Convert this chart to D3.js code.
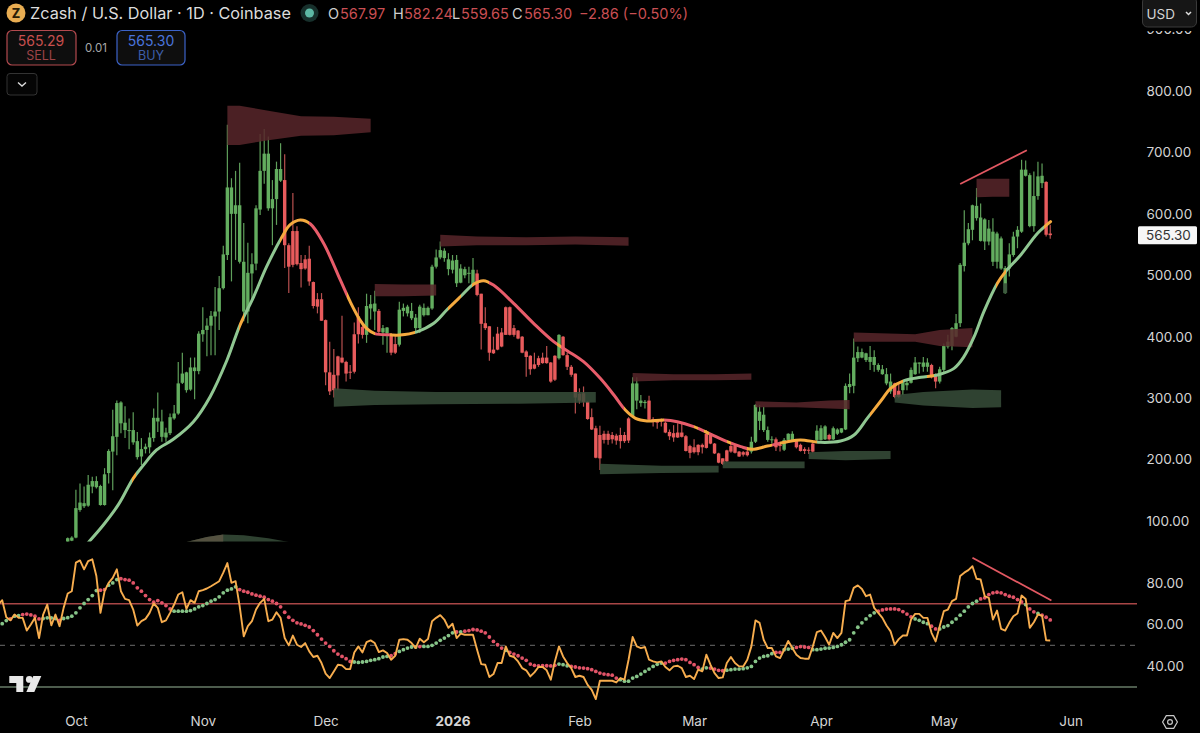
<!DOCTYPE html>
<html><head><meta charset="utf-8">
<script src="https://cdn.jsdelivr.net/npm/d3@7/dist/d3.min.js"></script>
<style>html,body{margin:0;padding:0;background:#000;overflow:hidden}text{font-family:Inter,"Noto Sans",sans-serif}</style>
</head><body><svg id="c" width="1200" height="733"></svg>
<script>
// ---- Candles: one per day, index 0 = 29 Sep 2025
const firstDay = new Date(Date.UTC(2025, 8, 29));
const opens = [66,68,73,118,124,125,156,155,126,126,178,213,237,259,248,247,228,204,205,217,220,235,262,237,236,243,267,275,325,313,314,344,344,404,411,418,433,441,479,533,600,600,522,441,441,503,519,607,670,609,609,624,654,655,549,572,572,520,526,527,489,461,461,427,342,338,368,366,359,343,404,433,416,403,446,441,442,407,406,403,388,387,442,438,430,414,414,435,435,446,514,529,528,510,509,487,488,500,503,484,503,470,422,417,379,405,407,448,448,414,410,400,376,369,355,365,366,366,358,369,365,400,370,351,340,307,308,294,269,251,240,242,242,240,239,240,240,267,270,296,292,292,296,266,263,265,260,245,243,244,244,238,222,220,224,224,242,242,226,210,202,215,222,222,213,212,213,213,229,263,248,232,232,233,224,216,232,231,232,224,217,216,226,232,232,233,240,233,242,244,249,318,320,365,366,362,359,354,346,339,324,311,324,312,313,321,325,339,356,351,351,354,338,327,346,384,385,400,422,515,552,574,593,556,555,555,522,522,511,471,511,533,563,571,662,580,580,629,650,652,567.97];
const highs = [73,75,151,161,156,175,172,173,159,186,217,281,296,295,287,267,277,245,235,226,244,283,309,281,252,275,289,359,374,343,366,366,409,448,430,442,481,499,548,745,658,670,683,585,553,536,614,730,738,726,655,685,715,697,552,634,580,533,533,548,490,471,471,428,392,380,369,434,361,354,423,448,425,470,468,475,445,419,416,406,403,457,454,452,455,437,452,454,449,517,542,555,544,536,533,533,518,514,514,528,509,470,448,417,400,416,414,449,449,419,411,401,378,370,374,369,374,385,359,370,404,401,374,354,340,316,319,295,283,255,255,247,247,245,242,252,245,269,334,334,305,297,304,269,264,267,262,249,256,259,259,240,224,233,225,226,248,243,227,211,202,216,226,224,214,214,218,237,290,289,286,254,238,236,229,235,243,246,233,226,220,220,228,256,256,256,242,254,251,251,324,340,397,384,381,374,385,378,357,354,349,340,325,324,329,329,350,367,358,367,365,356,340,351,389,403,416,437,520,606,585,615,642,617,593,590,593,571,563,515,552,571,580,688,687,666,669,685,682,653,582.24];
const lows = [65,67,72,115,121,123,145,153,125,125,161,150,207,243,235,217,224,200,191,210,210,229,245,229,229,240,265,273,323,309,312,298,339,392,368,370,370,411,477,525,490,525,519,425,422,460,508,598,649,605,549,582,652,512,471,513,516,480,509,483,446,438,426,321,305,301,313,357,327,331,340,389,397,390,428,411,403,387,374,370,372,384,433,433,427,408,406,433,435,444,511,526,522,500,503,481,487,495,487,484,466,379,411,361,372,378,383,403,402,400,396,373,335,338,347,351,356,356,325,328,363,369,346,335,275,291,286,265,248,202,183,226,224,226,224,218,227,227,269,282,286,283,264,254,250,254,243,232,229,235,236,213,202,210,207,210,218,225,209,194,191,196,211,210,204,205,205,210,227,248,245,229,226,214,213,214,229,229,218,213,209,209,211,229,231,232,231,232,240,243,248,308,308,359,365,359,346,343,343,338,321,307,300,300,305,313,324,338,340,343,343,332,316,324,340,381,378,399,416,506,549,557,589,555,541,549,515,511,509,470,498,530,544,569,661,578,571,623,642,563,559.65];
const closes = [72,73,121,130,129,159,165,165,157,176,214,238,292,293,260,248,248,230,217,221,236,268,268,262,244,269,275,324,340,342,350,350,405,411,418,434,441,479,534,643,643,614,614,522,504,518,609,670,698,698,624,673,673,549,514,517,518,510,511,490,450,449,426,342,311,313,337,358,340,342,343,404,403,450,453,454,408,414,415,374,374,444,447,449,442,431,449,447,447,514,529,541,540,526,524,525,511,510,504,509,468,421,414,374,373,379,384,403,403,403,397,374,367,347,348,354,357,357,327,330,403,370,351,338,301,296,294,266,249,203,202,232,232,233,231,230,230,231,324,324,296,294,265,263,260,262,244,238,236,236,237,214,211,212,212,220,219,226,210,195,193,197,213,211,205,208,207,229,289,278,273,248,233,220,222,232,242,242,220,214,214,215,213,247,251,254,233,251,249,251,320,323,366,375,375,373,367,367,354,347,339,327,302,302,328,325,346,358,358,358,358,334,327,347,385,392,414,422,517,553,575,614,613,594,591,576,571,568,560,512,534,563,574,672,672,663,629,661,662,566,565.30];

// ---- Smoothed moving average: day index / price
const maDay = [3,8.7,12.4,16,18.5,21.7,25.8,30.7,34.8,38.9,42.1,45.4,48.6,52.3,54.3,56.8,59.3,62.5,66.6,69,71.4,73,75,78.7,81.2,85.3,89.4,92.6,95.9,99.2,101.6,104,108.9,113.8,118.7,122,126,130.1,133.4,136.2,138.7,141.5,145.6,148.9,152.9,157,161.1,164.4,167.2,170.9,175.8,179,183.9,188.8,192.1,195.3,198.8,201,204.3,208.4,212.4,216.5,218.9,221.4,223.8,227.1,229.1,232.8,236.9,240.1];
const maPrice = [50,93.5,127,169.5,191,215.6,233,261.7,302.4,362.1,419,465,514,561.8,582,590,583.5,552,492.4,457,427,413.6,405,403,402.8,408,421.8,443.5,465,485.8,491.2,484,454.3,421.8,392,377.3,359.4,332.2,305.1,280.7,267.1,262.8,264.4,261.7,253.6,241.6,229.1,221,216.6,222,229.1,231.9,228,230.2,240,267.1,297,316,328.5,333.9,337.7,348.5,367.5,400,440.8,487,506,533,568.3,587.3];
// colour runs: a run ends at the day given
const maRunEnd = [15.6,16.8,41.9,43.1,51.8,59,68.2,75,78.7,84.9,93,96,98.7,103,119.5,120.5,135.8,145.6,153,154,155.5,156.6,161,162,166,172,174,183,196,204,210,211.6,226.7,229.3,238.5,241];
const maRunTone = ["g","o","g","o","g","o","r","o","r","o","g","o","g","o","r","o","r","o","r","o","r","o","r","o","r","o","r","o","g","o","g","o","g","o","g","o"];

// ---- Supply / demand zones
const zoneR1Day=[39,42,49,57,65,74], zoneR1Top=[776,776,768,759,758,755], zoneR1Bot=[712,712,720,727,728,733];
const zoneR2Day=[75,82,90], zoneR2Top=[486,485,485], zoneR2Bot=[466,466,467];
const zoneR3Day=[91,100,112,124,137], zoneR3Top=[566,563,562,563,562], zoneR3Bot=[547,549,549,550,548];
const zoneR4Day=[138,148,158,167], zoneR4Top=[341,339,339,340], zoneR4Bot=[327,329,329,330];
const zoneR5Day=[168,178,186,191], zoneR5Top=[295,293,296,297], zoneR5Bot=[285,285,283,282];
const zoneR6Day=[192,207,213,221], zoneR6Top=[407,404,411,414], zoneR6Bot=[392,392,385,383];
const zoneR7Day=[222,226,230], zoneR7Top=[657,657,657], zoneR7Bot=[627,628,628];
const zoneG1Day=[65,75,90,110,129], zoneG1Top=[316,312,310,310,310], zoneG1Bot=[286,289,290,291,293];
const zoneG2Day=[130,145,159], zoneG2Top=[193,190,190], zoneG2Bot=[176,178,179];
const zoneG3Day=[160,170,180], zoneG3Top=[197,197,197], zoneG3Bot=[186,186,186];
const zoneG4Day=[181,190,201], zoneG4Top=[212,214,214], zoneG4Bot=[201,199,201];
const zoneG5Day=[202,209,221,228], zoneG5Top=[305,310,314,313], zoneG5Bot=[293,288,284,285];
const zoneG6Day=[228.5,229.5], zoneG6Top=[487,487], zoneG6Bot=[471,471];
const zoneG7Day=[29,34,38,43,49,54], zoneG7Top=[66,74,78,77,72,66], zoneG7Bot=[40,40,40,40,40,40];
const zoneT1Day=[29,34,38], zoneT1Top=[66,74,78], zoneT1Bot=[40,40,40];

// ---- Oscillator: one value per day, first value is day -17
const rsiFirstDay = -17;
const rsi = [69.6,71.7,63.5,62,64.8,63.2,63.2,57.1,60,63.2,53.5,64.8,69.6,59.6,64.8,59.2,68,74.9,76,89.7,90.8,86.5,90.5,91.3,83.3,65.6,76,80,82.4,86.5,76,72.3,71.7,67.2,59.5,61.6,62.7,65.6,70.1,68,61.1,62,65.6,69.6,74.4,75.5,67.5,71.7,70.4,76,76.5,77.3,78.4,79.6,80.8,84.9,89.5,80,80.8,68.8,54.3,59.2,61.6,67.2,70.4,72.3,61.6,62.4,65.9,63.2,53.5,50,54.7,50.3,49.2,51.1,47.1,44.4,45,41.5,36.4,34.3,37.5,40.7,40.4,38.6,38.6,46.6,49.5,46.6,51.5,52.4,51.1,46.8,47.6,46.3,43.1,45,52.7,
53,52.7,51.1,48.7,53.2,51.5,53,61.6,63.2,64.5,62.4,58.4,60.4,53.5,55.6,55.1,55.1,55.1,47.9,41,40.7,34.8,36.2,41.5,41.5,49.5,45,44.4,42.3,39.1,38,35.1,37,39.6,39.6,38,33.5,42.3,49.5,44.7,41.5,39.1,34.8,35.4,34.8,31,28.6,24.2,33,33,33,33,32.2,34.3,33.5,43.1,54,49.5,48.7,49.2,43.1,42.3,41.8,42.3,39.6,38,39.9,40.2,39.1,34.8,35.4,33.8,38.3,37.5,45.5,40.7,36.7,34.3,34.6,41.5,44.4,41.5,39.9,39.9,43.1,49.5,62,60.8,52.7,48.7,48.7,44.7,43.9,47.9,52.1,48.7,45.5,43.9,
43.6,43.6,49.5,56.4,57.1,54,50.3,56,53.5,56,71.2,71.7,77.6,78.8,77.1,73.6,74.4,68,65.6,63.2,59.5,56.7,50.3,53,54.7,54.7,62.4,65.1,65.1,63.2,63.2,56,51.9,59.2,66.4,67.2,71.2,72.3,83.3,84.9,86.1,88,82,81.6,73.6,72.8,62.4,66.7,57.9,57.1,60.8,64,65.3,73.9,72.3,58.4,61.1,64.8,64.3,52.4,52.3];
const rsiSignal = [60,60.4,61.9,62.7,64,64.3,64.8,65,64.6,64,62.7,62.9,63.2,63.2,62.9,62,62.9,63.3,64,65.6,68,70.1,72,73.9,76.3,76.5,76.8,78.9,80,81.6,82,81.6,81.3,80,77.6,76,73.9,72,70.7,71.5,70.4,69.1,67.5,66.4,66.4,66.4,66.4,66.7,67.5,68.5,69.1,70.1,71.2,72,73.3,75.2,76.5,77.1,78.1,76.8,76,75.5,74.7,74.1,73.6,73.1,72,71.2,70.1,68.5,65.9,63.5,62,60.8,60.3,59.6,58.8,57.1,55.1,53,51.1,49.5,47.4,45.8,44.7,43.6,42.3,42,41.8,42,42.3,42.8,43.1,43.6,44.4,44.7,45,46,47.1,
47.9,48.7,49.2,49.2,49.4,49.5,49.5,50,51.1,52.4,53.5,54.7,56,56.4,56.4,56.8,57.1,57.6,57.4,56.8,56,54,51.9,50.3,48.7,47.6,46.6,45.8,45,43.9,42.8,41,40.4,40.1,40.2,40.2,40.1,40.4,41,40.7,40.2,39.9,39.6,39.2,39.1,38.8,38.3,37.5,36.7,36.2,35.9,35.7,34.3,33.5,32.8,32.8,34.3,35.1,36.2,37.5,38.6,39.9,40.9,41.5,41.5,42.3,42.8,43.1,43.4,43.1,41.8,40.7,39.4,38.6,39.2,39.1,38.6,38,37.8,38.1,38.3,38.6,38.6,38.8,39.2,39.9,42.3,43.9,44.7,45,46,46.6,46.6,47.9,48.2,48.6,49,49.4,
49.2,49,47.9,47.9,48.2,48.6,48.7,49,49.5,50.3,51.5,52.7,56,58.7,60.8,62.7,64.3,65.6,66.4,67,67.4,67.5,67.5,67.2,66.2,65,63.7,62.7,62,61.1,60.4,59.2,57.9,57.9,58.8,59.5,61.1,62.7,64.5,66.4,68.5,70.1,71.2,72.3,72.8,74.4,75.2,75.5,75.2,74.4,73.6,73.1,72,70.9,69.6,67.5,66.1,65.3,64.5,63.5,62.2];
// days on which the signal dots are red: [from, to]
const signalRedSpans = [[-14,-14],[-11,-7],[-2,-2],[8,9],[13,25],[42,69],[79,80],[86,86],[95,95],[97,106],[108,119],[123,134],[146,154],[157,160],[173,174],[178,181],[198,206],[211,212],[223,233],[235,236],[238,240]];

// ---- Axes and reference lines
const priceTicks = [100,200,300,400,500,600,700,800,900];
const rsiTicks = [40,60,80];
const timeTickDates = [[2025,9],[2025,10],[2025,11],[2026,0],[2026,1],[2026,2],[2026,3],[2026,4],[2026,5]];
const timeTickLabels = ["Oct","Nov","Dec","2026","Feb","Mar","Apr","May","Jun"];
const rsiLevels = [70,50,30];
const priceTrendDay=[218,234.3], priceTrendValue=[648.6,703.5];
const rsiTrendDay=[221,240.3], rsiTrendValue=[92.1,71.5];

// ---- Scales
const x = d3.scaleUtc().domain([new Date(Date.UTC(2025,9,1)),new Date(Date.UTC(2026,5,1))]).range([75.9,1070.7]);
const xd = i => x(d3.utcHour.offset(firstDay, Math.round(i*24)));
const y = d3.scaleLinear().domain([100,800]).range([521,91]);
const yr = d3.scaleLinear().domain([30,70]).range([687,603.7]);
const C = {up:"#63ad5f",upW:"#5f9f5b",dn:"#e85b5c",dnW:"#b8504f",mg:"#90c792",mo:"#f5aa3f",mr:"#e85c6a",zr:"#58262a",zg:"#374e3a",zt:"#5a5343",line:"#e25862",txt:"#d4d4d4"};

const svg = d3.select("#c");
svg.append("rect").attr("width",1200).attr("height",733).attr("fill","#000");
const defs = svg.append("defs");
defs.append("clipPath").attr("id","pane").append("rect").attr("x",0).attr("y",0).attr("width",1137).attr("height",541.5);

// gradient with hard stops for the MA tones
const toneColor = {g:C.mg,o:C.mo,r:C.mr};
const grad = defs.append("linearGradient").attr("id","maGrad").attr("gradientUnits","userSpaceOnUse").attr("x1",0).attr("x2",1200).attr("y1",0).attr("y2",0);
let prev = 0;
maRunEnd.forEach((end,k)=>{
  const col = toneColor[maRunTone[k]], a = k===0?0:xd(prev)/1200, b = xd(end)/1200;
  grad.append("stop").attr("offset",a).attr("stop-color",col);
  grad.append("stop").attr("offset",b).attr("stop-color",col);
  prev = end;
});

const pane = svg.append("g").attr("clip-path","url(#pane)");
// candles
const days = d3.range(opens.length);
pane.append("g").selectAll("line").data(days).join("line")
  .attr("x1",i=>xd(i)).attr("x2",i=>xd(i)).attr("y1",i=>y(highs[i])).attr("y2",i=>y(lows[i]))
  .attr("stroke",i=>closes[i]>=opens[i]?C.upW:C.dnW).attr("stroke-width",1.2);
pane.append("g").selectAll("rect").data(days).join("rect")
  .attr("x",i=>xd(i)-1.7).attr("width",3.4)
  .attr("y",i=>y(Math.max(opens[i],closes[i])))
  .attr("height",i=>Math.max(1,Math.abs(y(opens[i])-y(closes[i]))))
  .attr("fill",i=>closes[i]>=opens[i]?C.up:C.dn);

// zones
const zoneArea = (d,t,b) => d3.area().x(k=>xd(d[k])).y0(k=>y(b[k])).y1(k=>y(t[k]))(d.map((_,k)=>k));
[[zoneR1Day,zoneR1Top,zoneR1Bot,C.zr],[zoneR2Day,zoneR2Top,zoneR2Bot,C.zr],[zoneR3Day,zoneR3Top,zoneR3Bot,C.zr],[zoneR4Day,zoneR4Top,zoneR4Bot,C.zr],[zoneR5Day,zoneR5Top,zoneR5Bot,C.zr],[zoneR6Day,zoneR6Top,zoneR6Bot,C.zr],[zoneR7Day,zoneR7Top,zoneR7Bot,C.zr],
 [zoneG1Day,zoneG1Top,zoneG1Bot,C.zg],[zoneG2Day,zoneG2Top,zoneG2Bot,C.zg],[zoneG3Day,zoneG3Top,zoneG3Bot,C.zg],[zoneG4Day,zoneG4Top,zoneG4Bot,C.zg],[zoneG5Day,zoneG5Top,zoneG5Bot,C.zg],[zoneG6Day,zoneG6Top,zoneG6Bot,C.zg],[zoneG7Day,zoneG7Top,zoneG7Bot,C.zg],[zoneT1Day,zoneT1Top,zoneT1Bot,C.zt]]
 .forEach(z=>pane.append("path").attr("d",zoneArea(z[0],z[1],z[2])).attr("fill",z[3]).attr("fill-opacity",.85));

// moving average
pane.append("path").attr("fill","none").attr("stroke","url(#maGrad)").attr("stroke-width",3).attr("stroke-linecap","round")
  .attr("d",d3.line().x(k=>xd(maDay[k])).y(k=>y(maPrice[k])).curve(d3.curveCatmullRom.alpha(.5))(maDay.map((_,k)=>k)));

// price trend line
svg.append("line").attr("x1",xd(priceTrendDay[0])).attr("x2",xd(priceTrendDay[1])).attr("y1",y(priceTrendValue[0])).attr("y2",y(priceTrendValue[1])).attr("stroke",C.line).attr("stroke-width",1.8);

// oscillator levels
const levelStyle = {70:["#a84646",null,1.4],50:["#565656","5,5",1.2],30:["#9ab89a",null,1.2]};
svg.append("g").selectAll("line").data(rsiLevels).join("line")
  .attr("x1",0).attr("x2",1137).attr("y1",d=>yr(d)).attr("y2",d=>yr(d))
  .attr("stroke",d=>levelStyle[d][0]).attr("stroke-dasharray",d=>levelStyle[d][1]).attr("stroke-width",d=>levelStyle[d][2]);

// signal dots
const isRed = i => signalRedSpans.some(s=>i>=s[0]&&i<=s[1]);
svg.append("g").selectAll("circle").data(rsiSignal).join("circle")
  .attr("cx",(d,k)=>xd(rsiFirstDay+k)).attr("cy",d=>yr(d)).attr("r",1.9)
  .attr("fill",(d,k)=>isRed(rsiFirstDay+k)?"#e25468":"#86c488");
// oscillator line
svg.append("path").attr("fill","none").attr("stroke","#f7ad4e").attr("stroke-width",1.9).attr("stroke-linejoin","round")
  .attr("d",d3.line().x((d,k)=>xd(rsiFirstDay+k)).y(d=>yr(d))(rsi));
svg.append("line").attr("x1",xd(rsiTrendDay[0])).attr("x2",xd(rsiTrendDay[1])).attr("y1",yr(rsiTrendValue[0])).attr("y2",yr(rsiTrendValue[1])).attr("stroke",C.line).attr("stroke-width",1.8);

// axes
const styleAxis = g => { g.select(".domain").remove(); g.selectAll("text").attr("fill",C.txt).style("font-size","13.5px"); };
svg.append("g").attr("transform","translate(1146.5,0)").call(d3.axisRight(y).tickValues(priceTicks).tickFormat(d3.format(".2f")).tickSize(0).tickPadding(0)).call(styleAxis);
svg.append("g").attr("transform","translate(1146.5,0)").call(d3.axisRight(yr).tickValues(rsiTicks).tickFormat(d3.format(".2f")).tickSize(0).tickPadding(0)).call(styleAxis);
const tickDates = timeTickDates.map(d=>new Date(Date.UTC(d[0],d[1],1)));
svg.append("g").attr("transform","translate(0,716.5)").call(d3.axisBottom(x).tickValues(tickDates).tickFormat((d,k)=>timeTickLabels[k]).tickSize(0).tickPadding(0)).call(styleAxis)
  .selectAll("text").attr("font-weight",(d,k)=>timeTickLabels[k]==="2026"?700:400);

// USD box
svg.append("rect").attr("x",1142).attr("y",26).attr("width",55).attr("height",5).attr("fill","#000");
svg.append("rect").attr("x",1142.5).attr("y",-3).attr("width",54).attr("height",30).attr("rx",5).attr("fill","#161616").attr("stroke","#3a3a3a");
svg.append("text").attr("x",1146.5).attr("y",19).attr("fill","#d4d4d4").style("font-size","13.5px").text("USD");
svg.append("path").attr("d","M1186 12l2.5 2.5 2.5-2.5").attr("fill","none").attr("stroke","#ddd").attr("stroke-width",1.5);

// last price tag
const lastClose = closes[closes.length-1];
svg.append("rect").attr("x",1138).attr("y",y(lastClose)-9).attr("width",59).attr("height",18).attr("rx",1.5).attr("fill","#f6f6f6");
svg.append("text").attr("x",1146).attr("y",y(lastClose)+5).attr("fill","#333").style("font-size","13.5px").text(d3.format(".2f")(lastClose));

// header
svg.append("circle").attr("cx",16).attr("cy",13).attr("r",9.5).attr("fill","#e9ad52");
svg.append("text").attr("x",16).attr("y",17.5).attr("text-anchor","middle").attr("fill","#2a1d06").attr("font-weight",800).style("font-size","12.5px").text("Z");
svg.append("text").attr("x",30).attr("y",19).attr("fill","#dcdcdc").style("font-size","16.25px").text("Zcash / U.S. Dollar · 1D · Coinbase");
svg.append("circle").attr("cx",309.5).attr("cy",13).attr("r",9).attr("fill","#17302c");
svg.append("circle").attr("cx",309.5).attr("cy",13).attr("r",4.5).attr("fill","#5db8a4");
const hdrKeys=["O","H","L","C"], hdrVals=["567.97","582.24","559.65","565.30"], hdrKeyX=[328,393,452,512], hdrValX=[340,404,461,524];
hdrKeys.forEach((k,n)=>{
  svg.append("text").attr("x",hdrKeyX[n]).attr("y",18.5).attr("fill","#cfcfcf").style("font-size","14.5px").text(k);
  svg.append("text").attr("x",hdrValX[n]).attr("y",18.5).attr("fill","#c94f53").style("font-size","14.5px").text(hdrVals[n]);
});
svg.append("text").attr("x",579).attr("y",18.5).attr("fill","#c94f53").style("font-size","14.5px").text("−2.86 (−0.50%)");

// buy/sell
svg.append("rect").attr("x",7).attr("y",30.5).attr("width",69).attr("height",34.5).attr("rx",5).attr("fill","#0e0e0e").attr("stroke","#b34a4f").attr("stroke-width",1.2);
svg.append("text").attr("x",41).attr("y",46).attr("text-anchor","middle").attr("fill","#c8504f").style("font-size","14px").text("565.29");
svg.append("text").attr("x",41).attr("y",60).attr("text-anchor","middle").attr("fill","#9c4346").style("font-size","12.5px").text("SELL");
svg.append("text").attr("x",96).attr("y",52).attr("text-anchor","middle").attr("fill","#a8a8a8").style("font-size","11.5px").text("0.01");
svg.append("rect").attr("x",117).attr("y",30.5).attr("width",68).attr("height",34.5).attr("rx",5).attr("fill","#0e0e0e").attr("stroke","#3c63c8").attr("stroke-width",1.2);
svg.append("text").attr("x",151).attr("y",46).attr("text-anchor","middle").attr("fill","#4a74dc").style("font-size","14px").text("565.30");
svg.append("text").attr("x",151).attr("y",60).attr("text-anchor","middle").attr("fill","#3e5ea8").style("font-size","12.5px").text("BUY");
svg.append("rect").attr("x",7).attr("y",73.5).attr("width",30).attr("height",21.5).attr("rx",3).attr("fill","#050505").attr("stroke","#333");
svg.append("path").attr("d","M18 82.5l4 3.5 4-3.5").attr("fill","none").attr("stroke","#ddd").attr("stroke-width",1.4);

// TradingView mark
svg.append("g").attr("transform","translate(9.3,676)").attr("fill","#e8e8e8").call(g=>{
  g.append("path").attr("d","M0 0H14V16H7V7H0Z");
  g.append("circle").attr("cx",20).attr("cy",3.4).attr("r",3.4);
  g.append("path").attr("d","M32 0L25 16H17L24 0Z");
});
// settings hexagon
const hex = d3.range(6).map(k=>[1170+7.4*Math.cos(k*Math.PI/3),722+7.4*Math.sin(k*Math.PI/3)]);
svg.append("path").attr("d",d3.line().curve(d3.curveLinearClosed)(hex)).attr("fill","none").attr("stroke","#c8c8c8").attr("stroke-width",1.2);
svg.append("circle").attr("cx",1170).attr("cy",722).attr("r",2.4).attr("fill","none").attr("stroke","#c8c8c8").attr("stroke-width",1.2);
</script></body></html>
